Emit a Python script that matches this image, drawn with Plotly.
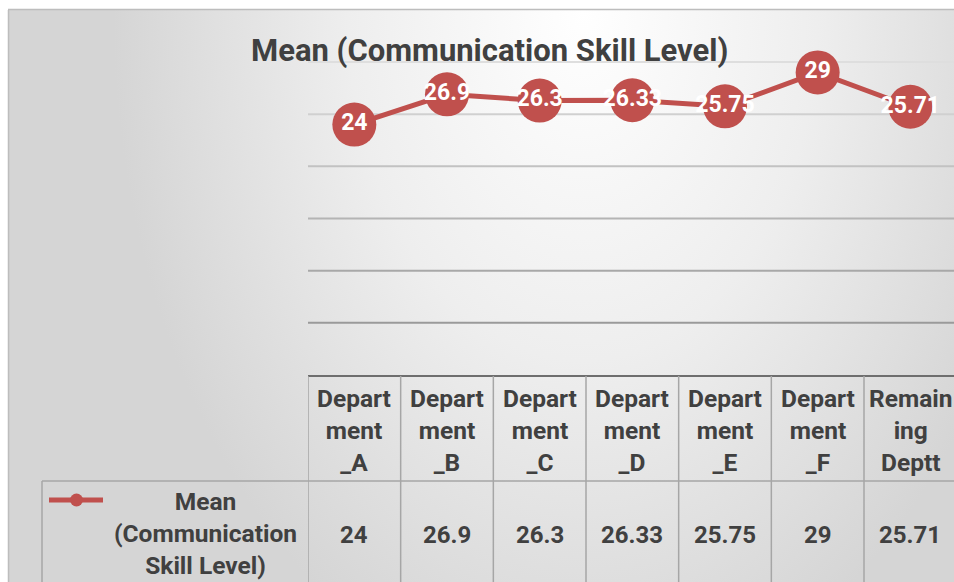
import base64
import plotly.graph_objects as go

# ---------------- data ----------------
categories = ["Department_A", "Department_B", "Department_C", "Department_D",
              "Department_E", "Department_F", "Remaining Deptt"]
header_labels = ["Depart<br>ment<br>_A", "Depart<br>ment<br>_B", "Depart<br>ment<br>_C",
                 "Depart<br>ment<br>_D", "Depart<br>ment<br>_E", "Depart<br>ment<br>_F",
                 "Remain<br>ing<br>Deptt"]
values = [24, 26.9, 26.3, 26.33, 25.75, 29, 25.71]
value_labels = ["24", "26.9", "26.3", "26.33", "25.75", "29", "25.71"]
series_name = "Mean (Communication Skill Level)"
legend_label = "Mean<br>(Communication<br>Skill Level)"
grid_values = [5, 10, 15, 20, 25, 30]

# ---------------- geometry helpers ----------------
W, H = 954, 582


def px(x):
    return x / W


def py(y):
    return 1 - y / H


RED = "#C0504D"
TXT = "#404040"
FONT = "Roboto, 'DejaVu Sans', sans-serif"
TABLE_LINE = "#a6a6a6"

x_pos = list(range(len(categories)))
col_w = (864 - 308) / 6.0
x_right = -0.5 + (W - 308) / col_w
y_scale = (375 - 62) / 30.0
y_top = 30 + 62 / y_scale

fig = go.Figure()
fig.add_trace(go.Scatter(
    x=x_pos, y=values, name=series_name,
    mode="lines+markers+text",
    line=dict(color=RED, width=5),
    marker=dict(color=RED, size=44, line=dict(width=0)),
    text=value_labels, textposition="middle center",
    textfont=dict(color="white", size=23, family=FONT, weight="bold"),
    cliponaxis=False, showlegend=False, hoverinfo="x+y",
))

# ---------------- background gradient ----------------
svg = (
    '<svg xmlns="http://www.w3.org/2000/svg" width="946" height="572">'
    '<defs><radialGradient id="g" gradientUnits="userSpaceOnUse" cx="0" cy="0" r="1" '
    'gradientTransform="translate(575,0) scale(470,700)">'
    '<stop offset="0" stop-color="#ffffff"/>'
    '<stop offset="0.5" stop-color="#eeeeee"/>'
    '<stop offset="1" stop-color="#d5d5d5"/>'
    '</radialGradient></defs>'
    '<rect width="946" height="572" fill="url(#g)"/></svg>'
)
src = "data:image/svg+xml;base64," + base64.b64encode(svg.encode()).decode()

shapes = []
annotations = []

# chart border (top & left)
shapes.append(dict(type="line", xref="paper", yref="paper", x0=px(8), x1=1,
                   y0=py(9.5), y1=py(9.5), line=dict(color="#bdbdbd", width=1.5)))
shapes.append(dict(type="line", xref="paper", yref="paper", x0=px(8.5), x1=px(8.5),
                   y0=py(10), y1=0, line=dict(color="#bdbdbd", width=1.5)))

# gridlines (darker towards bottom)
grid_colors = {5: "#9a9a9a", 10: "#a8a8a8", 15: "#b4b4b4", 20: "#c2c2c2",
               25: "#d0d0d0", 30: "#dedede"}
for g in grid_values:
    shapes.append(dict(type="line", xref="x domain", yref="y", x0=0, x1=1, y0=g, y1=g,
                       line=dict(color=grid_colors[g], width=2), layer="below"))

# data table lines
for k in range(len(categories)):
    shapes.append(dict(type="line", xref="x", yref="paper", x0=k - 0.5, x1=k - 0.5,
                       y0=py(376), y1=0, line=dict(color=TABLE_LINE, width=1.5)))
shapes.append(dict(type="line", xref="paper", yref="paper", x0=px(42), x1=1,
                   y0=py(481), y1=py(481), line=dict(color=TABLE_LINE, width=1.5)))
shapes.append(dict(type="line", xref="paper", yref="paper", x0=px(42), x1=px(42),
                   y0=py(481), y1=0, line=dict(color=TABLE_LINE, width=1.5)))

# legend key in table
shapes.append(dict(type="line", xref="paper", yref="paper", x0=px(49), x1=px(103),
                   y0=py(500), y1=py(500), line=dict(color=RED, width=5)))
shapes.append(dict(type="circle", xref="paper", yref="paper", x0=px(70), x1=px(83),
                   y0=py(506.5), y1=py(493.5), fillcolor=RED, line=dict(width=0)))

# title
annotations.append(dict(text=series_name, xref="paper", yref="paper", x=px(490), y=py(50),
                        showarrow=False, xanchor="center", yanchor="middle",
                        font=dict(size=31, color=TXT, family=FONT, weight="bold")))

# header + value cells
for k, (hl, vl) in enumerate(zip(header_labels, value_labels)):
    annotations.append(dict(text=hl, xref="x", yref="paper", x=k, y=py(430),
                            showarrow=False, xanchor="center", yanchor="middle",
                            font=dict(size=24.5, color=TXT, family=FONT, weight="bold")))
    annotations.append(dict(text=vl, xref="x", yref="paper", x=k, y=py(535),
                            showarrow=False, xanchor="center", yanchor="middle",
                            font=dict(size=24, color=TXT, family=FONT, weight="bold")))

annotations.append(dict(text=legend_label, xref="paper", yref="paper", x=px(205), y=py(533),
                        showarrow=False, xanchor="center", yanchor="middle",
                        font=dict(size=24.5, color=TXT, family=FONT, weight="bold")))

fig.update_layout(
    width=W, height=H,
    margin=dict(l=0, r=0, t=0, b=0),
    paper_bgcolor="white", plot_bgcolor="rgba(0,0,0,0)",
    images=[dict(source=src, xref="paper", yref="paper", x=px(8), y=py(10),
                 sizex=946 / W, sizey=572 / H, xanchor="left", yanchor="top",
                 sizing="stretch", layer="below")],
    xaxis=dict(domain=[px(308), 1], range=[-0.5, x_right], showticklabels=False,
               showgrid=False, zeroline=False, showline=True, linecolor="#6e6e6e",
               linewidth=2, ticks=""),
    yaxis=dict(domain=[py(375), 1], range=[0, y_top], showticklabels=False,
               showgrid=False, zeroline=False, showline=False, ticks=""),
    shapes=shapes, annotations=annotations, showlegend=False,
)

fig.write_html(
    "out.html",
    config={"displayModeBar": False},
    post_script="document.body.style.margin='0';document.body.style.overflow='hidden';",
)
